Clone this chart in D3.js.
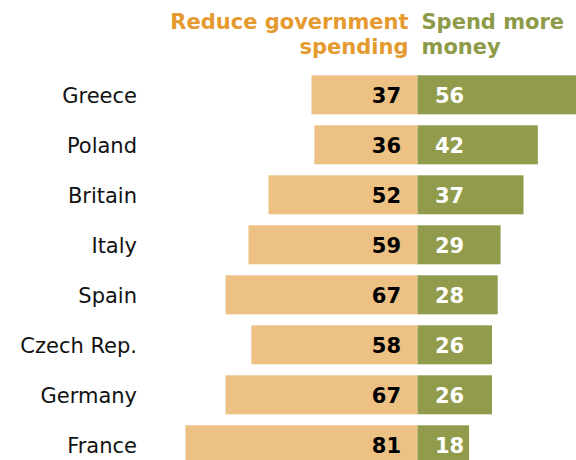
<!DOCTYPE html>
<html><head><meta charset="utf-8">
<script src="https://cdn.jsdelivr.net/npm/d3@7"></script>
<style>body{margin:0;background:#fff}svg{display:block}</style>
</head><body>
<script>
const countries = ["Greece","Poland","Britain","Italy","Spain","Czech Rep.","Germany","France"];
const reduceSpending = [37,36,52,59,67,58,67,81];
const spendMore = [56,42,37,29,28,26,26,18];
const headerReduce = ["Reduce government","spending"];
const headerSpend = ["Spend more","money"];

const W = 576, H = 460, cx = 417.5;
const svg = d3.select("body").append("svg").attr("width",W).attr("height",H);
const x = d3.scaleLinear().domain([0,100]).range([0,286.5]);
const y = d3.scaleBand().domain(countries).range([69.8,469.8]).paddingInner(0.22).paddingOuter(0.11);
const font = "DejaVu Sans, Verdana, sans-serif";

svg.append("g").selectAll("text").data(headerReduce).join("text")
  .attr("x",408.5).attr("y",(d,i)=>28.5+i*25).attr("text-anchor","end")
  .attr("font-family",font).attr("font-weight","bold").attr("font-size",21)
  .attr("fill","#E59A2F").text(d=>d);
svg.append("g").selectAll("text").data(headerSpend).join("text")
  .attr("x",421.5).attr("y",(d,i)=>28.5+i*25).attr("text-anchor","start")
  .attr("font-family",font).attr("font-weight","bold").attr("font-size",21)
  .attr("fill","#8D9A48").text(d=>d);

const rows = svg.append("g").selectAll("g").data(countries).join("g");
rows.append("rect").attr("x",(d,i)=>cx - x(reduceSpending[i])).attr("y",d=>y(d))
  .attr("width",(d,i)=>x(reduceSpending[i])).attr("height",y.bandwidth()).attr("fill","#EDC084");
rows.append("rect").attr("x",cx).attr("y",d=>y(d))
  .attr("width",(d,i)=>x(spendMore[i])).attr("height",y.bandwidth()).attr("fill","#919B4B");
rows.append("text").attr("x",137).attr("y",d=>y(d)+y.bandwidth()/2).attr("dy","0.4em")
  .attr("text-anchor","end").attr("font-family",font).attr("font-size",21).attr("fill","#111").text(d=>d);
rows.append("text").attr("x",cx-16.5).attr("y",d=>y(d)+y.bandwidth()/2).attr("dy","0.4em")
  .attr("text-anchor","end").attr("font-family",font).attr("font-weight","bold").attr("font-size",21)
  .attr("fill","#000").text((d,i)=>reduceSpending[i]);
rows.append("text").attr("x",cx+17.5).attr("y",d=>y(d)+y.bandwidth()/2).attr("dy","0.4em")
  .attr("text-anchor","start").attr("font-family",font).attr("font-weight","bold").attr("font-size",21)
  .attr("fill","#fff").text((d,i)=>spendMore[i]);
</script>
</body></html>
